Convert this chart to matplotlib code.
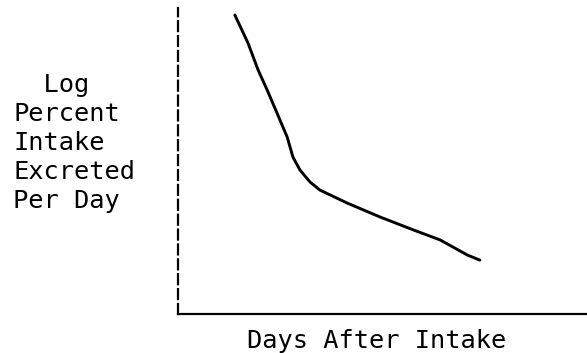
import matplotlib
matplotlib.use('Agg')
import matplotlib.pyplot as plt

# curve (arbitrary units, axes 0-100)
days = [13.9, 17.1, 19.6, 21.8, 24.2, 26.7, 28.1, 29.8, 32.3, 34.7,
        41.3, 49.4, 57.5, 64.1, 67.2, 70.7, 73.8]
log_pct = [97.7, 88.6, 79.7, 73.2, 65.7, 57.8, 51.3, 47.1, 43.1, 40.5,
           36.3, 31.7, 27.5, 24.2, 21.9, 19.3, 17.6]

font = 'DejaVu Sans Mono'

fig = plt.figure(figsize=(5.87, 3.53), dpi=100)
ax = fig.add_axes([178 / 587, 1 - 314 / 353, 1 - 178 / 587, 306 / 353])
ax.set_xlim(0, 100)
ax.set_ylim(0, 100)

ax.plot(days, log_pct, color='black', linewidth=2.1,
        solid_capstyle='round', solid_joinstyle='round')

# axes: dashed vertical, solid horizontal
for s in ['top', 'right']:
    ax.spines[s].set_visible(False)
ax.spines['left'].set_linewidth(1.6)
ax.spines['left'].set_linestyle((0, (4.5, 2.2)))
ax.spines['bottom'].set_linewidth(1.6)
ax.set_xticks([])
ax.set_yticks([])

fig.text(13 / 587, 1 - 143 / 353, '  Log\nPercent\nIntake\nExcreted\nPer Day',
         family=font, fontsize=18.3, ha='left', va='center',
         multialignment='left', linespacing=1.27)
fig.text(377 / 587, 1 - 341 / 353, 'Days After Intake',
         family=font, fontsize=18.3, ha='center', va='center')

fig.savefig('out.png', dpi=100, facecolor='white')
